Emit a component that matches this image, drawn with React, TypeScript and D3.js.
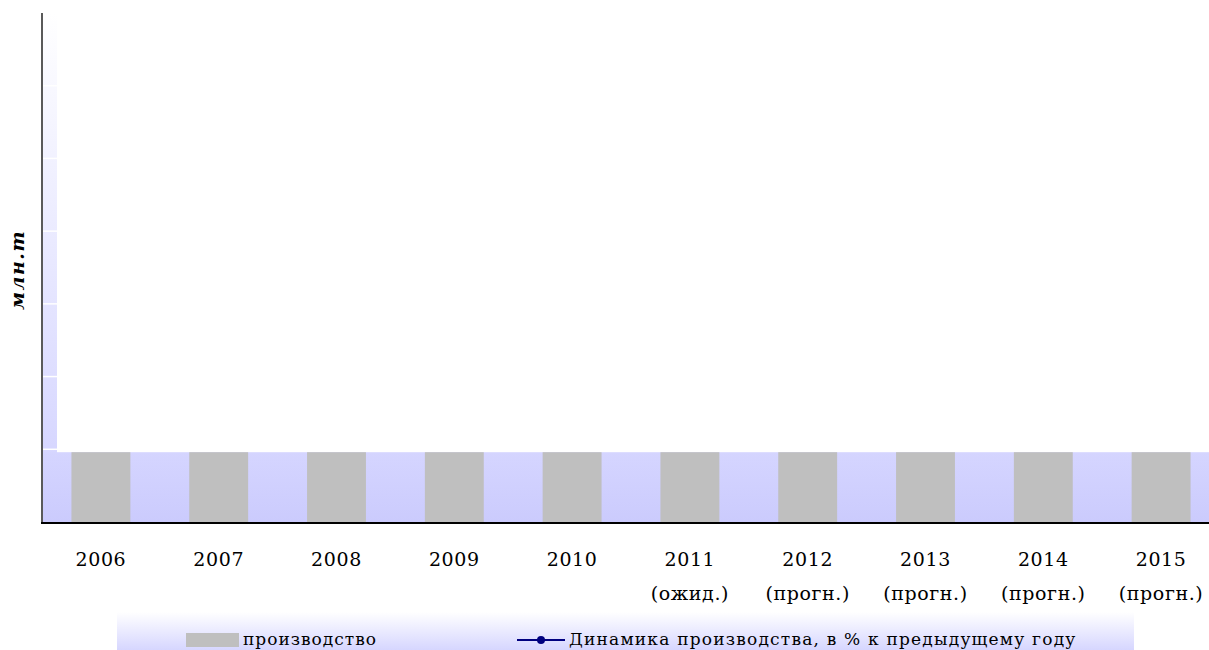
import * as d3 from "d3";
import React from "react";

// years on the category axis, second line of the label under each year
const years = ["2006", "2007", "2008", "2009", "2010", "2011", "2012", "2013", "2014", "2015"];
const notes = ["", "", "", "", "", "(ожид.)", "(прогн.)", "(прогн.)", "(прогн.)", "(прогн.)"];
// production, million t (all bars sit at the same height in the picture)
const production = [0.96, 0.96, 0.96, 0.96, 0.96, 0.96, 0.96, 0.96, 0.96, 0.96];
// gridlines visible on the side wall
const wallTicks = [1, 2, 3, 4, 5, 6];

const W = 1209;
const H = 650;
const FONT = "'DejaVu Serif', 'Liberation Serif', serif";

function App() {
    const x = d3.scaleBand<string>()
        .domain(years)
        .range([42, 1220])
        .paddingInner(0.5)
        .paddingOuter(0.25);

    const y = d3.scaleLinear().domain([0, 7]).range([522, 13]);

    const floorTop = y(d3.min(production) as number);

    return (
        <svg width={W} height={H} style={{position: "absolute", left: 0, top: 0, background: "#fff"}}>
            <defs>
                <linearGradient id="wallGrad" x1="0" y1="0" x2="0" y2="1">
                    <stop offset="0" stopColor="#ffffff" />
                    <stop offset="1" stopColor="#d0d0ff" />
                </linearGradient>
                <linearGradient id="floorGrad" x1="0" y1="0" x2="0" y2="1">
                    <stop offset="0" stopColor="#d5d5ff" />
                    <stop offset="1" stopColor="#cbcbfd" />
                </linearGradient>
                <linearGradient id="legendGrad" x1="0" y1="0" x2="0" y2="1">
                    <stop offset="0" stopColor="#ffffff" />
                    <stop offset="1" stopColor="#d6d6ff" />
                </linearGradient>
            </defs>

            {/* side wall with its gridlines */}
            <rect x={42} y={y(7)} width={15} height={y(0) - y(7)} fill="url(#wallGrad)" />
            {wallTicks.map(t => (
                <line key={t} x1={42} x2={57} y1={y(t)} y2={y(t)} stroke="#ffffff" strokeWidth={1.5} />
            ))}

            {/* floor */}
            <rect x={42} y={floorTop} width={W - 42} height={y(0) - floorTop} fill="url(#floorGrad)" />

            {/* bars */}
            {years.map((yr, i) => (
                <rect key={yr}
                      x={x(yr)}
                      y={y(production[i])}
                      width={x.bandwidth()}
                      height={y(0) - y(production[i])}
                      fill="#bfbfbf" />
            ))}

            {/* axes */}
            <line x1={42} x2={42} y1={y(7)} y2={523} stroke="#5a5a5a" strokeWidth={2} />
            <line x1={41} x2={W} y1={523} y2={523} stroke="#000" strokeWidth={2} />

            {/* category labels */}
            {years.map((yr, i) => {
                const cx = (x(yr) as number) + x.bandwidth() / 2;
                return (
                    <g key={yr} fontFamily={FONT} fontSize={19} letterSpacing={0.6} textAnchor="middle" fill="#000">
                        <text x={cx} y={566}>{yr}</text>
                        {notes[i] && <text x={cx} y={600}>{notes[i]}</text>}
                    </g>
                );
            })}

            {/* y axis title */}
            <text transform="translate(24,270) rotate(-90)" textAnchor="middle" letterSpacing={1.5}
                  fontFamily={FONT} fontSize={19} fontWeight="bold" fontStyle="italic">млн.т</text>

            {/* legend */}
            <rect x={117} y={612} width={1017} height={38} fill="url(#legendGrad)" />
            <rect x={186} y={633} width={53} height={14} fill="#bfbfbf" />
            <text x={243} y={645} fontFamily={FONT} fontSize={17} letterSpacing={1}>производство</text>
            <line x1={517} x2={565} y1={640} y2={640} stroke="#000080" strokeWidth={2} />
            <circle cx={541} cy={640} r={4} fill="#000080" />
            <text x={569} y={645} fontFamily={FONT} fontSize={17} letterSpacing={1.2}>Динамика производства, в % к предыдущему году</text>
        </svg>
    );
}

export default App;
